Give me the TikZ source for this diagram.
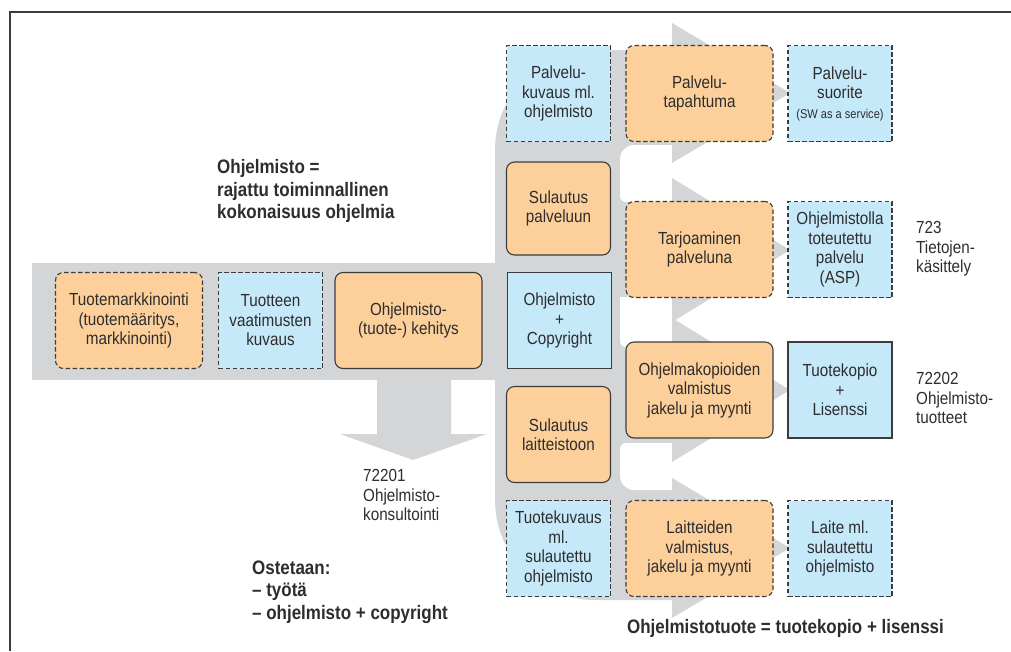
\documentclass[tikz,border=0pt]{standalone}
\usepackage{fontspec}
\setmainfont{Liberation Sans}[FakeStretch=0.87]
\definecolor{boxorange}{RGB}{253,208,155}
\definecolor{boxblue}{RGB}{198,233,250}
\definecolor{bandgray}{RGB}{212,213,215}
\definecolor{linegray}{RGB}{60,60,60}
\definecolor{textgray}{RGB}{45,45,45}
\newcommand\bxfont{\fontsize{17.5}{19.5}\selectfont}
\newcommand\lblfont{\bfseries\fontsize{19.5}{22.5}\selectfont}
\newcommand\swfont{\fontsize{12.7}{14}\selectfont}
\tikzset{
  box/.style={draw=linegray,line width=1.1pt,inner sep=0pt,align=center,font=\bxfont,text=textgray,minimum height=96pt},
  orangebox/.style={box,fill=boxorange,rounded corners=8pt},
  bluebox/.style={box,fill=boxblue},
  dashedbox/.style={dash pattern=on 4.5pt off 2.5pt},
  wide/.style={minimum width=147pt},
  narrow/.style={minimum width=104pt},
  note/.style={inner sep=0pt,align=left,font=\bxfont,text=textgray},
  boldnote/.style={inner sep=0pt,align=left,font=\lblfont,text=textgray}
}
\begin{document}
\begin{tikzpicture}[x=1pt,y=-1pt]
    \useasboundingbox (0,0) rectangle (1011,651);
    % gray bands and arrows
    \fill[bandgray] (32,263) rectangle (500,380);
    \fill[bandgray] (377,379) -- (377,434) -- (340,434) -- (413,460) -- (487,434) -- (451,434) -- (451,379) -- cycle;
    \begin{scope}
        \clip (0,0) rectangle (672,651);
        \fill[bandgray,rounded corners=100pt] (495,50) rectangle (800,600);
    \end{scope}
    \fill[white] (690,145) [rounded corners=14pt] -- (620,145) [rounded corners=6pt] -- (620,202) [sharp corners] -- (690,202) -- cycle;
    \fill[white] (690,297) -- (620,297) [rounded corners=6pt] -- (620,347) [sharp corners] -- (690,347) -- cycle;
    \fill[white] (690,443) [rounded corners=6pt] -- (620,443) [rounded corners=14pt] -- (620,490) [sharp corners] -- (690,490) -- cycle;
    \fill[bandgray] (672,23) -- (790,93) -- (672,163) -- cycle;
    \fill[bandgray] (672,178) -- (790,250) -- (672,322) -- cycle;
    \fill[bandgray] (672,318) -- (790,390) -- (672,462) -- cycle;
    \fill[bandgray] (672,478) -- (790,548) -- (672,618) -- cycle;
    % frame
    \draw[line width=1.6pt,linegray] (10,651) -- (10,12) -- (1011,12);
    % main row
    \node[orangebox,dashedbox,wide] (tm) at (129,320.5) {Tuotemarkkinointi\\(tuotemääritys,\\markkinointi)};
    \node[bluebox,dashedbox,narrow] (tv) at (270.5,320.5) {Tuotteen\\vaatimusten\\kuvaus};
    \node[orangebox,wide] (ok) at (408.5,320.5) {Ohjelmisto-\\(tuote-) kehitys};
    % first column
    \node[bluebox,dashedbox,narrow] (pk) at (558.5,93.5) {Palvelu-\\kuvaus ml.\\ohjelmisto};
    \node[orangebox,narrow,minimum height=93pt] (sp) at (558.5,208.5) {Sulautus\\palveluun};
    \node[bluebox,narrow] (oc) at (559.5,320.5) {Ohjelmisto\\+\\Copyright};
    \node[orangebox,narrow] (sl) at (558.5,434.5) {Sulautus\\laitteistoon};
    \node[bluebox,dashedbox,narrow] (tk) at (558.5,548.5) {Tuotekuvaus\\ml.\\sulautettu\\ohjelmisto};
    % second column
    \node[orangebox,dashedbox,wide] (pt) at (699.5,93.5) {Palvelu-\\tapahtuma};
    \node[orangebox,dashedbox,wide] (tp) at (699.5,249.5) {Tarjoaminen\\palveluna};
    \node[orangebox,wide] (ov) at (699.5,390) {Ohjelmakopioiden\\valmistus\\jakelu ja myynti};
    \node[orangebox,dashedbox,wide] (lv) at (699.5,548.5) {Laitteiden\\valmistus,\\jakelu ja myynti};
    % third column
    \node[bluebox,dashedbox,narrow] (ps) at (840,93.5) {Palvelu-\\suorite\\{\swfont (SW as a service)}};
    \node[bluebox,dashedbox,narrow] (op) at (840,249.5) {Ohjelmistolla\\toteutettu\\palvelu\\(ASP)};
    \node[bluebox,narrow] (tl) at (840,390) {Tuotekopio\\+\\Lisenssi};
    \node[bluebox,dashedbox,narrow] (lm) at (840,548.5) {Laite ml.\\sulautettu\\ohjelmisto};
    % notes
    \node[boldnote,anchor=west] (def) at (217,191) {Ohjelmisto =\\rajattu toiminnallinen\\kokonaisuus ohjelmia};
    \node[note,anchor=west] (k723) at (916,249) {723\\Tietojen-\\käsittely};
    \node[note,anchor=west] (k72202) at (916,398) {72202\\Ohjelmisto-\\tuotteet};
    \node[note,anchor=west] (k72201) at (363,495) {72201\\Ohjelmisto-\\konsultointi};
    \node[boldnote,anchor=west] (ost) at (252,592) {Ostetaan:\\– työtä\\– ohjelmisto + copyright};
    \node[boldnote] (sum) at (785.5,628) {Ohjelmistotuote = tuotekopio + lisenssi};
\end{tikzpicture}
\end{document}
